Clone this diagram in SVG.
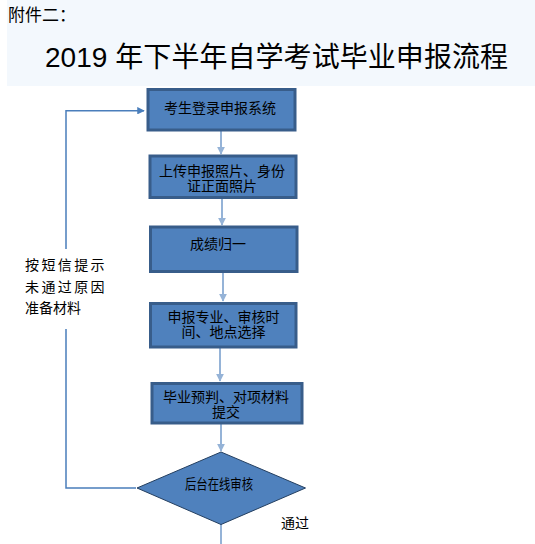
<svg xmlns="http://www.w3.org/2000/svg" width="535" height="544" viewBox="0 0 535 544">
<defs>
<style>
text{font-family:"Liberation Sans","Noto Sans CJK SC",sans-serif;fill:#000}
.box{fill:#4f81bd;stroke:#385d8a;stroke-width:3}
.dia{fill:#4f81bd;stroke:#243f60;stroke-width:1}
.t{font-size:14px;text-anchor:middle}
.lbl{font-size:14px}
.flow{fill:none;stroke:#95b3d7;stroke-width:2}
.loop{fill:none;stroke:#4a7ebb;stroke-width:1.5}
</style>
<marker id="ah" viewBox="0 0 10 10" refX="9" refY="5" markerWidth="4" markerHeight="4" orient="auto" markerUnits="strokeWidth"><path d="M0,0 L10,5 L0,10 z" fill="#95b3d7"/></marker>
<marker id="ah2" viewBox="0 0 10 10" refX="9" refY="5" markerWidth="5" markerHeight="5" orient="auto" markerUnits="strokeWidth"><path d="M0,0 L10,5 L0,10 z" fill="#4a7ebb"/></marker>
</defs>
<rect x="0" y="0" width="535" height="544" fill="#ffffff"/>
<rect x="7" y="0" width="528" height="86" fill="#f3f8fd"/>
<text x="8" y="21" font-size="17px">附件二：</text>
<text x="45" y="67" font-size="28px" textLength="463">2019 年下半年自学考试毕业申报流程</text>

<g id="connectors">
<line class="flow" x1="221" y1="131" x2="221" y2="154" marker-end="url(#ah)"/>
<line class="flow" x1="222" y1="198" x2="222" y2="225" marker-end="url(#ah)"/>
<line class="flow" x1="223" y1="272" x2="223" y2="301" marker-end="url(#ah)"/>
<line class="flow" x1="220" y1="348" x2="220" y2="381" marker-end="url(#ah)"/>
<line class="flow" x1="221" y1="424" x2="221" y2="451" marker-end="url(#ah)"/>
<line class="flow" x1="221" y1="524" x2="221" y2="544"/>
<path class="loop" d="M136,488 H66 V329"/>
<path class="loop" d="M66,249 V110.7 H144" marker-end="url(#ah2)"/>
</g>

<g id="n1">
<rect class="box" x="148" y="89.5" width="147" height="40.5"/>
<text class="t" x="220" y="113">考生登录申报系统</text>
</g>
<g id="n2">
<rect class="box" x="150" y="156" width="146" height="41.5"/>
<text class="t" x="222" y="176">上传申报照片、身份</text>
<text class="t" x="222" y="191">证正面照片</text>
</g>
<g id="n3">
<rect class="box" x="150.5" y="227" width="146.5" height="44.5"/>
<text class="t" x="218" y="248.5">成绩归一</text>
</g>
<g id="n4">
<rect class="box" x="150.5" y="303.5" width="145.5" height="43.5"/>
<text class="t" x="223.5" y="321.5">申报专业、审核时</text>
<text class="t" x="223.5" y="336.5">间、地点选择</text>
</g>
<g id="n5">
<rect class="box" x="152" y="383.5" width="150" height="39.5"/>
<text class="t" x="226" y="402">毕业预判、对项材料</text>
<text class="t" x="226" y="417">提交</text>
</g>
<g id="n6">
<polygon class="dia" points="221,452 305.5,488 221,524.5 137,488"/>
<text class="t" x="219" y="488.5" textLength="68" lengthAdjust="spacingAndGlyphs">后台在线审核</text>
</g>

<g id="labels">
<text class="lbl" x="25" y="270" letter-spacing="2.4">按短信提示</text>
<text class="lbl" x="25" y="291.5" letter-spacing="2.4">未通过原因</text>
<text class="lbl" x="25" y="313">准备材料</text>
<text class="lbl" x="281" y="528">通过</text>
</g>
</svg>
